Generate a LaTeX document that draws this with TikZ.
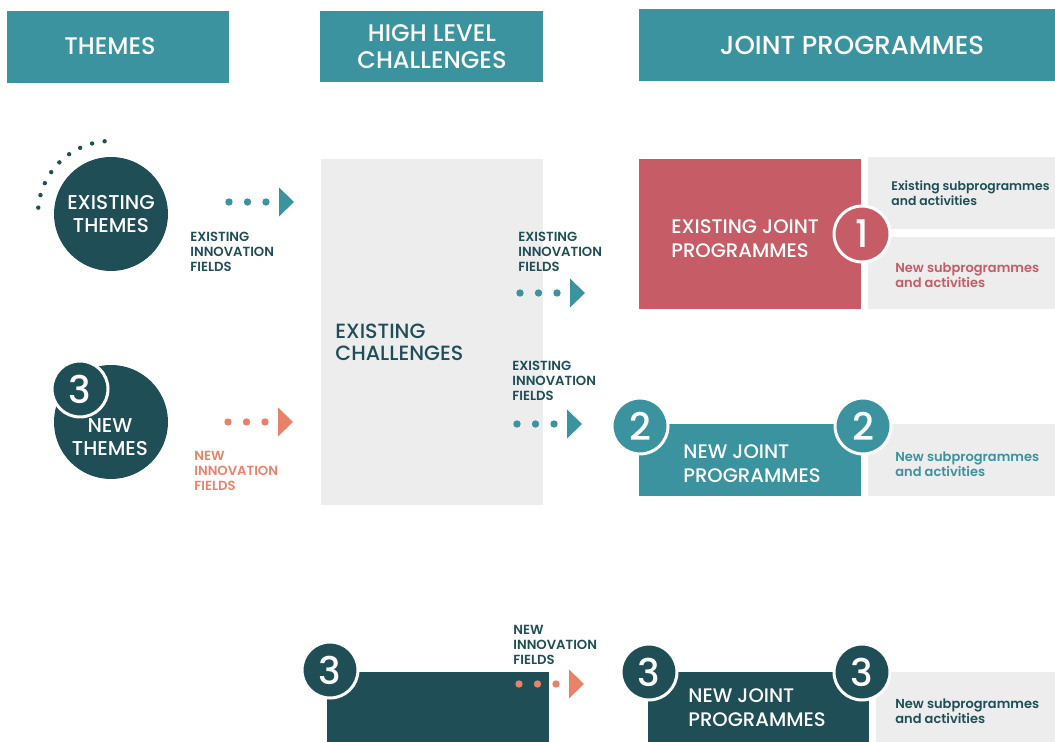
\documentclass[tikz,border=0pt]{standalone}
\usepackage{fontspec}
\setmainfont{Poppins}[UprightFont=* Medium, BoldFont=* SemiBold]
\usepackage{xcolor}
\usepackage{tikz}

\definecolor{cteal}{HTML}{3A939E}
\definecolor{cdark}{HTML}{1F4E56}
\definecolor{cred}{HTML}{C65C66}
\definecolor{corange}{HTML}{E8836A}
\definecolor{cgray}{HTML}{EDEDED}

\begin{document}
\begin{tikzpicture}[x=0.5pt, y=-0.5pt,
	hdr/.style={text=white, font=\fontsize{12}{13.5}\selectfont, align=center, inner sep=0},
	big/.style={text=white, font=\fontsize{9.8}{12}\selectfont, align=left, anchor=west, inner sep=0},
	small/.style={font=\bfseries\fontsize{6.6}{7.5}\selectfont, align=left, anchor=west, inner sep=0},
	subtxt/.style={font=\bfseries\fontsize{6.5}{7.5}\selectfont, align=left, anchor=west, inner sep=0},
	theme/.style={circle, fill=cdark, minimum size=57pt, inner sep=0, text=white,
		font=\fontsize{10}{11.5}\selectfont, align=center},
	badge/.style={circle, draw=white, line width=1.5pt, minimum size=28pt, inner sep=0,
		text=white, font=\fontsize{19}{19}\selectfont}]

\useasboundingbox (0,0) rectangle (1055,742);

% headers
\fill[cteal] (7,11) rectangle (229,83);
\fill[cteal] (320,11) rectangle (543,82);
\fill[cteal] (639,9) rectangle (1055,81);
\node[hdr] (hthemes) at (110,46) {THEMES};
\node[hdr] (hchall) at (432,47) {HIGH LEVEL\\CHALLENGES};
\node[hdr, font=\fontsize{13}{14}\selectfont] (hjoint) at (852,45) {JOINT PROGRAMMES};

% themes
\node[theme] (extthemes) at (111,214) {EXISTING\\THEMES};
\foreach \a in {95,105,...,175}
	\fill[cdark] ([shift={(-\a:73)}]extthemes.center) circle (1.1pt);
\node[theme] (newthemes) at (111,422) {};
\node[text=white, font=\fontsize{10}{11.5}\selectfont, align=center] (newtxt) at (110,437) {NEW\\THEMES};
\node[badge, fill=cdark] (b3a) at (80,389) {3};

% challenges
\fill[cgray] (321,159) rectangle (543,505);
\node[big, text=cdark, font=\fontsize{10.3}{11}\selectfont] (exchall) at (335,342) {EXISTING\\CHALLENGES};

% joint programmes
\fill[cred] (639,159) rectangle (861,309);
\fill[cgray] (868,157) rectangle (1055,229);
\fill[cgray] (868,237) rectangle (1055,309);
\node[big] (exjoint) at (671,239) {EXISTING JOINT\\PROGRAMMES};
\node[subtxt, text=cdark, font=\bfseries\fontsize{6.2}{7.5}\selectfont] (exsub1) at (891,193) {Existing subprogrammes\\and activities};
\node[subtxt, text=cred] (newsub1) at (895,275) {New subprogrammes\\and activities};
\node[badge, fill=cred] (b1) at (862,234) {1};

\fill[cteal] (639,424) rectangle (861,496);
\fill[cgray] (868,424) rectangle (1055,496);
\node[big] (newjoint2) at (683,464) {NEW JOINT\\PROGRAMMES};
\node[subtxt, text=cteal] (newsub2) at (895,464) {New subprogrammes\\and activities};
\node[badge, fill=cteal] (b2a) at (640,426) {2};
\node[badge, fill=cteal] (b2b) at (863,426) {2};

\fill[cdark] (327,672) rectangle (549,742);
\fill[cdark] (648,672) rectangle (869,742);
\fill[cgray] (876,672) rectangle (1055,742);
\node[big] (newjoint3) at (688,708) {NEW JOINT\\PROGRAMMES};
\node[subtxt, text=cdark] (newsub3) at (895,711) {New subprogrammes\\and activities};
\node[badge, fill=cdark] (b3b) at (330,670) {3};
\node[badge, fill=cdark] (b3c) at (649,672) {3};
\node[badge, fill=cdark] (b3d) at (862,672) {3};

% innovation fields
\node[small, text=cdark] (fld1) at (190,252) {EXISTING\\INNOVATION\\FIELDS};
\node[small, text=corange] (fld2) at (194,471) {NEW\\INNOVATION\\FIELDS};
\node[small, text=cdark] (fld3) at (518,252) {EXISTING\\INNOVATION\\FIELDS};
\node[small, text=cdark] (fld4) at (512,381) {EXISTING\\INNOVATION\\FIELDS};
\node[small, text=cdark] (fld5) at (513,645) {NEW\\INNOVATION\\FIELDS};

\foreach \x/\y/\c in {229/202/cteal, 228/422/corange, 520/293/cteal, 517/424/cteal, 519/684/corange}{
	\foreach \i in {0,1,2}
		\fill[\c] (\x+18.5*\i,\y) circle (1.85pt);
	\fill[\c] (\x+50,\y-14.5) -- (\x+65,\y) -- (\x+50,\y+14.5) -- cycle;
}

\end{tikzpicture}
\end{document}
